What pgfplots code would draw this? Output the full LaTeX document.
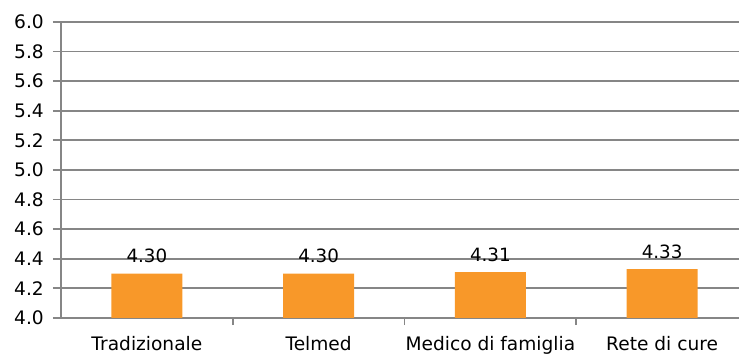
\documentclass[border=0pt]{standalone}
\usepackage{pgfplots}
\pgfplotsset{compat=1.18}
\usepackage{fontspec}
\setmainfont{DejaVu Sans}
\definecolor{barorange}{RGB}{248,152,41}
\definecolor{gridgray}{RGB}{134,134,134}
\begin{document}
\begin{tikzpicture}
\begin{axis}[
  scale only axis,
  width=678pt, height=296pt,
  xmin=-0.5, xmax=3.4476,
  ymin=4, ymax=6,
  ytick={4.0,4.2,4.4,4.6,4.8,5.0,5.2,5.4,5.6,5.8,6.0},
  yticklabel style={/pgf/number format/fixed, /pgf/number format/fixed zerofill,
    /pgf/number format/precision=1, /pgf/number format/assume math mode=true, xshift=-7pt},
  xtick={0,1,2,3},
  xticklabels={Tradizionale, Telmed, Medico di famiglia, Rete di cure},
  minor xtick={0.5,1.5,2.5},
  x tick style={draw=none},
  minor x tick style={draw=gridgray, line width=1.8pt},
  y tick style={draw=gridgray, line width=1.8pt},
  tick align=outside,
  major tick length=8pt,
  minor tick length=7pt,
  axis lines*=left,
  axis line style={draw=gridgray, line width=1.9pt, -},
  ymajorgrids,
  major grid style={draw=gridgray, line width=1.8pt},
  tick label style={font=\fontsize{18.6pt}{22pt}\selectfont, text=black, inner sep=2pt},
  xticklabel style={yshift=-8pt},
  ybar,
  bar width=0.413,
  nodes near coords,
  nodes near coords style={font=\fontsize{18.3pt}{22pt}\selectfont, anchor=base, yshift=11pt,
    /pgf/number format/fixed, /pgf/number format/fixed zerofill,
    /pgf/number format/precision=2, /pgf/number format/assume math mode=true},
  clip=false,
]
\addplot[fill=barorange, draw=none] coordinates {(0,4.30) (1,4.30) (2,4.31) (3,4.33)};
\coordinate (bl) at (rel axis cs:0,0);
\coordinate (tr) at (rel axis cs:1,1);
\end{axis}
\pgfresetboundingbox
\path[use as bounding box] ([shift={(-61pt,-38pt)}]bl) rectangle ([shift={(0pt,22pt)}]tr);
\end{tikzpicture}
\end{document}
